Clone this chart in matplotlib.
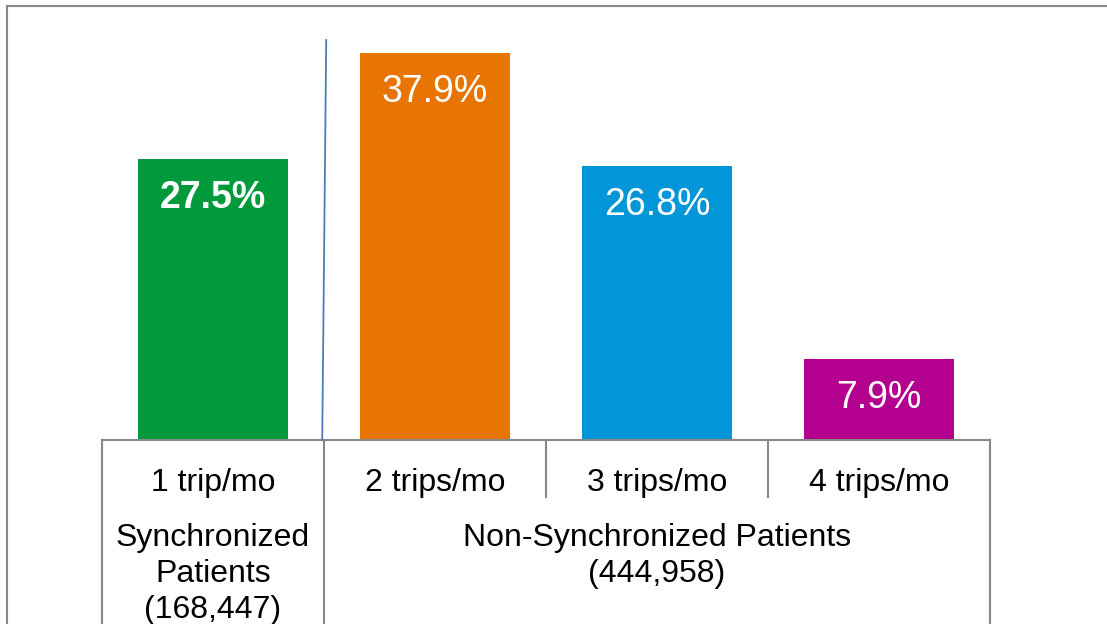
import matplotlib
matplotlib.use("Agg")
import matplotlib.pyplot as plt
from matplotlib.lines import Line2D

plt.rcParams['font.family'] = ['Liberation Sans', 'DejaVu Sans']

categories = ["1 trip/mo", "2 trips/mo", "3 trips/mo", "4 trips/mo"]
values = [27.5, 37.9, 26.8, 7.9]
value_labels = ["27.5%", "37.9%", "26.8%", "7.9%"]
bold_flags = [True, False, False, False]
colors = ["#009A3D", "#E87502", "#0096D8", "#B4008E"]
group_labels = ["Synchronized\nPatients\n(168,447)", "Non-Synchronized Patients\n(444,958)"]
group_spans = [(0, 0), (1, 3)]

W, H = 1107, 624
fig = plt.figure(figsize=(W / 100, H / 100), dpi=100)
ax_left, ax_right, ax_bottom_px, ax_top_px = 102, 990, 440, 6
ax = fig.add_axes([ax_left / W, (H - ax_bottom_px) / H,
                   (ax_right - ax_left) / W, (ax_bottom_px - ax_top_px) / H])
ax_h = ax_bottom_px - ax_top_px
ppu = 10.22
ax.set_xlim(-0.5, 3.5)
ax.set_ylim(0, ax_h / ppu)

x = list(range(len(categories)))
bars = ax.bar(x, values, width=0.672, color=colors, zorder=2)

for xi, v, lab, b in zip(x, values, value_labels, bold_flags):
    ax.annotate(lab, (xi, v), xytext=(0, -39 * 0.72), textcoords="offset points",
                ha="center", va="center", color="white", fontsize=27,
                fontweight="bold" if b else "normal")

for s in ["top", "left", "right"]:
    ax.spines[s].set_visible(False)
ax.spines["bottom"].set_color("#888888")
ax.spines["bottom"].set_linewidth(1.5)
ax.set_yticks([])
ax.set_xticks(x)
ax.set_xticklabels(categories, fontsize=23)
ax.tick_params(axis="x", length=0, pad=20.2)

tr = ax.get_xaxis_transform()
bottom_full = -(H - ax_bottom_px) / ax_h
bottom_short = -(497 - ax_bottom_px) / ax_h
for xb, yb in [(-0.5, bottom_full), (0.5, bottom_full), (1.5, bottom_short),
               (2.5, bottom_short), (3.5, bottom_full)]:
    ax.plot([xb, xb], [0, yb], transform=tr, color="#888888", lw=1.5,
            clip_on=False, zorder=1)

# divider line between synchronized and non-synchronized
ax.plot([0.492, 0.510], [0, (440 - 40) / ppu], color="#4A7EBB", lw=1.3,
        clip_on=False, zorder=3)

for lab, (a, b) in zip(group_labels, group_spans):
    ax.text((a + b) / 2, -(523 - ax_bottom_px) / ax_h, lab, transform=tr,
            ha="center", va="top", fontsize=23, linespacing=1.27)

# outer frame (left and top)
fig.add_artist(Line2D([7 / W, 7 / W], [0, 1 - 6 / H], color="#888888", lw=1.5))
fig.add_artist(Line2D([7 / W, 1], [1 - 6 / H, 1 - 6 / H], color="#888888", lw=1.5))

fig.savefig("out.png", dpi=100)
